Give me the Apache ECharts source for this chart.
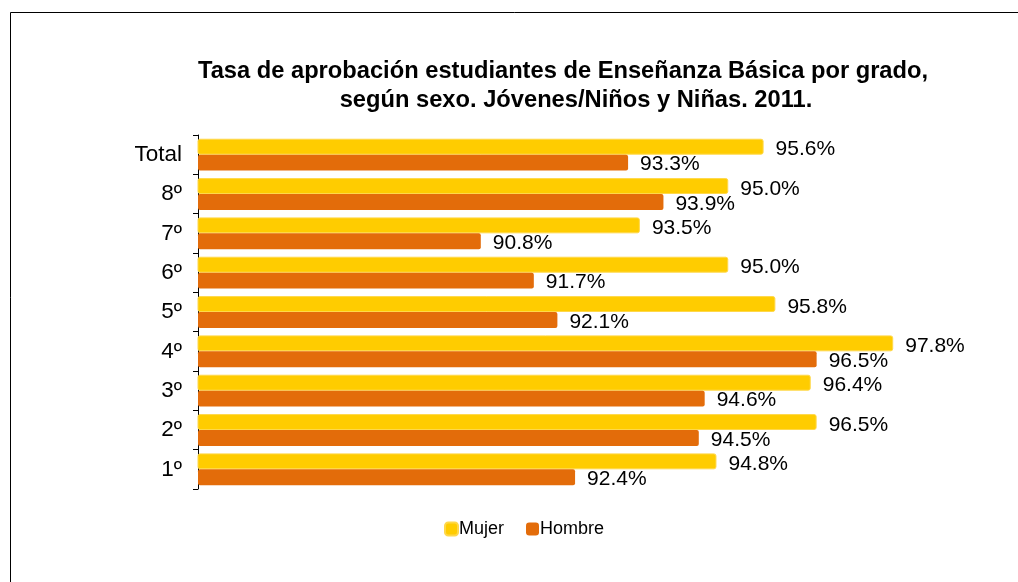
<!DOCTYPE html>
<html>
<head>
<meta charset="utf-8">
<script src="https://cdn.jsdelivr.net/npm/echarts@6/dist/echarts.min.js"></script>
<style>html,body{margin:0;padding:0;background:#fff;}#c{width:1018px;height:582px;}</style>
</head>
<body>
<div id="c"></div>
<script>
var categories = ['1º','2º','3º','4º','5º','6º','7º','8º','Total'];
var mujer  = [94.8, 96.5, 96.4, 97.8, 95.8, 95.0, 93.5, 95.0, 95.6];
var hombre = [92.4, 94.5, 94.6, 96.5, 92.1, 91.7, 90.8, 93.9, 93.3];
var titleLine1 = 'Tasa de aprobación estudiantes de Enseñanza Básica por grado,';
var titleLine2 = 'según sexo. Jóvenes/Niños y Niñas. 2011.';

var FONT = 'Arial, "Liberation Sans", sans-serif';
var chart = echarts.init(document.getElementById('c'));
function fmt(p){ return p.value.toFixed(1) + '%'; }
chart.setOption({
  animation: false,
  backgroundColor: '#fff',
  graphic: [{
    type: 'rect', shape: {x: 10.5, y: 12.5, width: 1100, height: 700},
    style: {fill: 'none', stroke: '#000', lineWidth: 1}, silent: true, z: 0
  }],
  title: [
    {text: titleLine1, left: 558, top: 54, textAlign: 'center',
     textStyle: {fontFamily: FONT, fontSize: 23.7, fontWeight: 'bold', color: '#000'}},
    {text: titleLine2, left: 571, top: 83, textAlign: 'center',
     textStyle: {fontFamily: FONT, fontSize: 23.7, fontWeight: 'bold', color: '#000'}}
  ],
  legend: {
    data: ['Mujer', 'Hombre'],
    left: 444, top: 520, padding: 0,
    itemWidth: 13, itemHeight: 13, itemGap: 22,
    icon: 'roundRect',
    textStyle: {fontFamily: FONT, fontSize: 18, color: '#000', padding: [0, 0, 0, -4]}
  },
  grid: {left: 198, top: 135, width: 707, height: 354, containLabel: false},
  xAxis: {
    type: 'value', min: 86, max: 98, show: false
  },
  yAxis: {
    type: 'category', data: categories,
    axisLine: {lineStyle: {color: '#000', width: 1}},
    axisTick: {show: true, length: 5, lineStyle: {color: '#000'}},
    axisLabel: {fontFamily: FONT, fontSize: 22.5, color: '#000', margin: 16}
  },
  series: [
    {name: 'Mujer', type: 'bar', data: mujer, barGap: '0%', barCategoryGap: '19%',
     itemStyle: {color: '#FFCC00', borderColor: '#FFD84A', borderWidth: 1, borderRadius: 2},
     label: {show: true, position: 'right', distance: 12, offset: [0, 3], formatter: fmt,
             fontFamily: FONT, fontSize: 21, color: '#000'}},
    {name: 'Hombre', type: 'bar', data: hombre, barGap: '0%', barCategoryGap: '19%',
     itemStyle: {color: '#E36C0A', borderRadius: 2},
     label: {show: true, position: 'right', distance: 12, offset: [0, 2], formatter: fmt,
             fontFamily: FONT, fontSize: 21, color: '#000'}}
  ]
});
</script>
</body>
</html>
